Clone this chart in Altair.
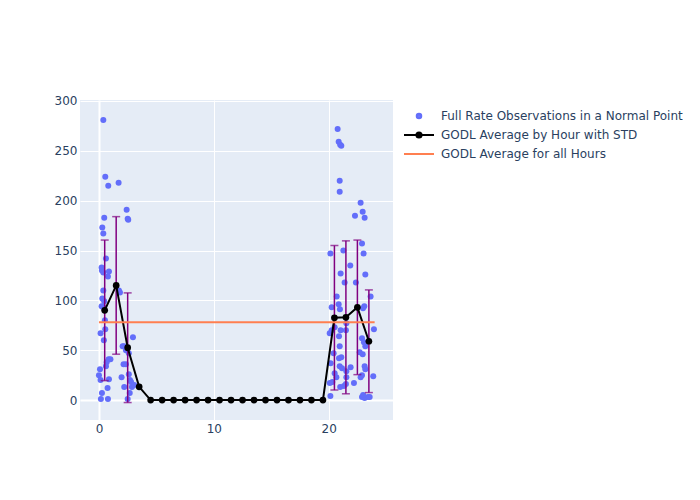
import altair as alt
import pandas as pd

S_OBS = "Full Rate Observations in a Normal Point"
S_AVG = "GODL Average by Hour with STD"
S_ALL = "GODL Average for all Hours"
SERIES = [S_OBS, S_AVG, S_ALL]
COLORS = ["#636EFA", "black", "coral"]

obs_x = [0.38, 0.55, 0.81, 1.71, 2.41, 2.50, 2.55, 0.46, 0.29, 0.38, 0.61, 0.23, 0.26, 0.38,
         0.87, 0.78, 0.38, 1.74, 1.83, 0.29, 0.46, 0.23, 0.38, 0.52, 0.14, 0.55, 0.43, 2.96,
         2.06, 2.17, 2.35, 2.60, 0.84, 1.00, 0.67, 0.61, 2.14, 2.35, 0.09, 0.00, 2.60, 1.97,
         0.14, 0.87, 2.70, 2.80, 2.20, 2.87, 3.07, 0.75, 2.68, 0.26, 0.17, 0.78, 2.50,
         20.78, 20.87, 21.00, 21.10, 20.96, 20.96, 22.78, 22.96, 23.13, 22.29, 22.90, 20.15,
         21.28, 23.04, 21.88, 21.04, 23.19, 21.39, 22.37, 23.65, 20.70, 20.26, 20.87, 20.98,
         23.10, 22.99, 23.94, 20.09, 20.26, 20.52, 21.04, 20.90, 21.54, 21.50, 22.90, 23.07,
         23.19, 20.96, 20.43, 21.10, 20.90, 22.70, 22.96, 20.17, 20.96, 21.16, 21.91, 23.13,
         23.19, 21.54, 20.52, 20.67, 20.32, 21.54, 22.20, 23.88, 22.78, 22.90, 21.00, 21.33,
         21.50, 20.15, 22.90, 23.13, 23.42, 23.57, 23.00, 20.10]
obs_y = [281, 224, 215, 218, 191, 182, 181, 183, 173, 167, 142, 133, 130, 128,
         129, 124, 110, 110, 108, 102, 99, 94, 93, 80, 67, 71, 60, 63,
         54, 54, 50, 47, 41, 41, 38, 34, 36, 36, 31, 25, 26, 23,
         20, 21, 20, 18, 13, 13, 15, 12, 7, 7, 1, 1, 1,
         272, 259, 256, 255, 220, 209, 198, 189, 183, 185, 157, 147,
         150, 147, 135, 127, 126, 118, 118, 104, 104, 93, 96, 91,
         94, 92, 71, 67, 70, 73, 70, 64, 77, 70, 62, 58,
         54, 54, 47, 43, 42, 48, 46, 37, 34, 32, 33, 34,
         31, 29, 27, 23, 18, 23, 17, 24, 23, 25, 13, 14,
         16, 4, 3, 2, 3, 3, 5, 17]

hours = [h + 0.5 for h in range(24)]
hour_mean = [90, 115, 52.5, 13.3, 0, 0, 0, 0, 0, 0, 0, 0, 0, 0, 0, 0, 0, 0, 0, 0,
             82.5, 83, 93, 59]
hour_std = [70.5, 69, 55, 0, 0, 0, 0, 0, 0, 0, 0, 0, 0, 0, 0, 0, 0, 0, 0, 0,
            72.5, 76.7, 67.5, 51.5]

overall_x = [0, 24]
overall_mean = 78

obs = pd.DataFrame({"x": obs_x, "y": obs_y, "series": S_OBS})
avg = pd.DataFrame({"x": hours, "y": hour_mean, "std": hour_std, "series": S_AVG})
avg["lo"] = avg["y"] - avg["std"]
avg["hi"] = avg["y"] + avg["std"]
err = avg[avg["std"] > 0]
allh = pd.DataFrame({"x": overall_x, "y": [overall_mean] * len(overall_x), "series": S_ALL})
# invisible anchor rows used only to build the legend
leg = pd.DataFrame({"x": [hours[0]] * 3, "y": [hour_mean[0]] * 3, "series": SERIES})

font = "DejaVu Sans"
txt = "#2a3f5f"

xs = alt.Scale(domain=[-1.65, 25.6], nice=False, zero=False)
ys = alt.Scale(domain=[-20, 301], nice=False, zero=False)

color_scale = alt.Scale(domain=SERIES, range=COLORS)


def rings(radii):
    return "".join(
        f"M{-r},0a{r},{r} 0 1,0 {2*r},0a{r},{r} 0 1,0 {-2*r},0" for r in radii)


shape_scale = alt.Scale(domain=SERIES, range=[
    rings([0.38, 0.22, 0.07]),
    "M-2.5,0H2.5" + rings([0.43, 0.27, 0.1]),
    "M-2.5,0H2.5",
])

grid_w = alt.condition("datum.value === 0", alt.value(2), alt.value(1))
xaxis = alt.Axis(values=[0, 10, 20], title=None, grid=True, gridColor="white",
                 gridWidth=grid_w, domain=False, ticks=False, labelPadding=3)
yaxis = alt.Axis(values=[0, 50, 100, 150, 200, 250, 300], title=None, grid=True,
                 gridColor="white", gridWidth=grid_w, domain=False, ticks=False, labelPadding=3)

legend = alt.Legend(
    title=None, orient="none", legendX=332, legendY=9,
    labelFont=font, labelFontSize=12, labelColor=txt, labelOffset=15, labelLimit=400,
    rowPadding=5, symbolSize=144, symbolStrokeWidth=2, symbolOpacity=1,
    symbolFillColor="transparent",
)

scatter = alt.Chart(obs).mark_circle(size=36, opacity=1, color="#636EFA").encode(
    x=alt.X("x:Q", scale=xs, axis=xaxis),
    y=alt.Y("y:Q", scale=ys, axis=yaxis),
)

legend_layer = alt.Chart(leg).mark_point(opacity=0, filled=False, strokeWidth=2).encode(
    x="x:Q", y="y:Q",
    color=alt.Color("series:N", scale=color_scale, legend=legend),
    shape=alt.Shape("series:N", scale=shape_scale, legend=legend),
)

bars = alt.Chart(err).mark_rule(color="purple", strokeWidth=1.5).encode(
    x="x:Q", y="lo:Q", y2="hi:Q")
cap_lo = alt.Chart(err).mark_tick(color="purple", size=8, thickness=1.5, orient="horizontal").encode(
    x="x:Q", y="lo:Q")
cap_hi = alt.Chart(err).mark_tick(color="purple", size=8, thickness=1.5, orient="horizontal").encode(
    x="x:Q", y="hi:Q")

avg_line = alt.Chart(avg).mark_line(
    strokeWidth=2, color="black",
    point=alt.OverlayMarkDef(size=45, filled=True, color="black")).encode(
    x="x:Q", y="y:Q")

all_line = alt.Chart(allh).mark_line(strokeWidth=2, color="coral").encode(
    x="x:Q", y="y:Q")

chart = alt.layer(scatter, bars, cap_lo, cap_hi, avg_line, all_line, legend_layer).properties(
    width=313, height=320,
    padding={"left": 72, "top": 92, "right": 290, "bottom": 40},
    autosize=alt.AutoSizeParams(type="none"),
    background="white",
).configure_view(fill="#E5ECF6", stroke=None).configure_axis(
    labelFont=font, labelFontSize=12, labelColor=txt
)

chart.save("out.html", embed_options={"renderer": "svg", "actions": False})
